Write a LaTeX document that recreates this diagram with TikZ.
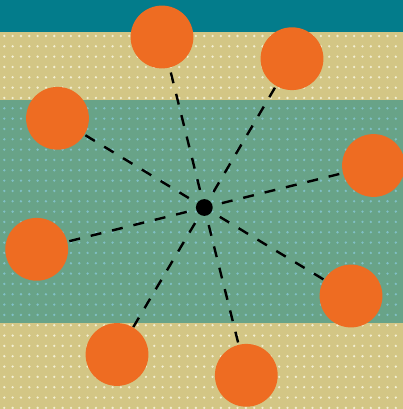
\documentclass[tikz,border=0pt]{standalone}
\definecolor{topteal}{RGB}{3,124,139}
\definecolor{khaki}{RGB}{211,198,133}
\definecolor{midgreen}{RGB}{104,163,136}
\definecolor{creamdot}{RGB}{242,238,208}
\definecolor{bluedot}{RGB}{128,192,198}
\definecolor{sunorange}{RGB}{238,108,34}
\tikzset{
  orb/.style={circle, fill=sunorange, inner sep=0pt, outer sep=0pt, minimum size=62.8pt},
  hub/.style={circle, fill=black, inner sep=0pt, outer sep=0pt, minimum size=16.8pt},
  spoke/.style={black, line width=2.4pt, dash pattern=on 11pt off 11pt, dash phase=12.3pt},
  dotc/.style={fill=creamdot},
  dotb/.style={fill=bluedot}
}
\begin{document}
\begin{tikzpicture}[x=1pt,y=-1pt]
\useasboundingbox (0,0) rectangle (403,409);
% background bands
\fill[topteal] (0,0) rectangle (403,32);
\fill[khaki] (0,32) rectangle (403,100);
\fill[midgreen] (0,100) rectangle (403,323.3);
\fill[khaki] (0,323.3) rectangle (403,409);
% dot grid
\foreach \j in {0,...,6}{\foreach \i in {0,...,47}{\fill[dotc] ({4.3+8.33*\i},{36+10.33*\j}) circle (1.3pt);}}
\foreach \j in {7,...,27}{\foreach \i in {0,...,47}{\fill[dotb] ({4.3+8.33*\i},{36+10.33*\j}) circle (1.3pt);}}
\foreach \j in {28,...,36}{\foreach \i in {0,...,47}{\fill[dotc] ({4.3+8.33*\i},{36+10.33*\j}) circle (1.3pt);}}
% nodes
\node[hub] (h) at (204.3,207.5) {};
\node[orb] (o1) at (162,37) {};
\node[orb] (o2) at (292,58.7) {};
\node[orb] (o3) at (57.5,118.3) {};
\node[orb] (o4) at (373.5,165.5) {};
\node[orb] (o5) at (36.7,249.3) {};
\node[orb] (o6) at (351,296) {};
\node[orb] (o7) at (117,354.5) {};
\node[orb] (o8) at (246.3,375.3) {};
% spokes
\foreach \k in {1,...,8}{\draw[spoke] (h) -- (o\k);}
\end{tikzpicture}
\end{document}
